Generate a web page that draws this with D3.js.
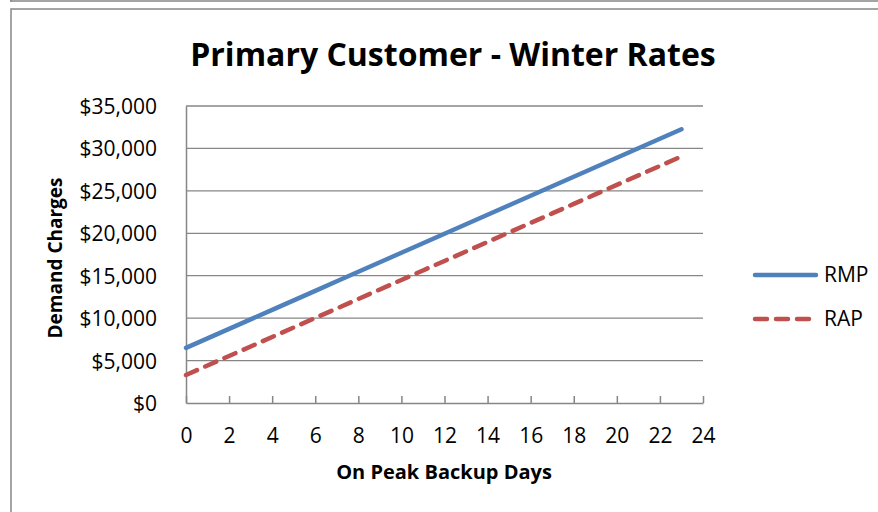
<!DOCTYPE html>
<html lang="en">
<head>
<meta charset="UTF-8">
<title>Primary Customer - Winter Rates</title>
<script src="https://d3js.org/d3.v7.min.js"></script>
<style>
  body { margin: 0; background: #fff; }
  svg text { font-family: "Open Sans", Lato, sans-serif; fill: #000; }
</style>
</head>
<body>
<div id="chart"></div>
<script>
// Data
const days = [0,1,2,3,4,5,6,7,8,9,10,11,12,13,14,15,16,17,18,19,20,21,22,23];
const rmp = [6500,7620,8740,9860,10980,12100,13220,14340,15460,16580,17700,18820,
             19940,21060,22180,23300,24420,25540,26660,27780,28900,30020,31140,32260];
const rap = [3300,4420,5540,6660,7780,8900,10020,11140,12260,13380,14500,15620,
             16740,17860,18980,20100,21220,22340,23460,24580,25700,26820,27940,29060];
const xTicks = [0,2,4,6,8,10,12,14,16,18,20,22,24];
const yTicks = [0,5000,10000,15000,20000,25000,30000,35000];

const W = 878, H = 512;
const plot = {left: 186, right: 703, top: 106, bottom: 403};
const grey = "#868686";

const svg = d3.select("#chart").append("svg")
    .attr("width", W).attr("height", H);

// frame lines (previous chart's edge + this chart's border)
svg.append("line").attr("x1", 10).attr("x2", W).attr("y1", 1).attr("y2", 1)
    .attr("stroke", grey).attr("stroke-width", 1.5);
svg.append("line").attr("x1", 11).attr("x2", 11).attr("y1", 0).attr("y2", 1.5)
    .attr("stroke", grey).attr("stroke-width", 1.5);
svg.append("rect").attr("x", 11).attr("y", 9).attr("width", W).attr("height", H)
    .attr("fill", "none").attr("stroke", grey).attr("stroke-width", 1.5);

const x = d3.scaleLinear().domain([0, 24]).range([plot.left, plot.right]);
const y = d3.scaleLinear().domain([0, 35000]).range([plot.bottom, plot.top]);

// gridlines
svg.append("g").selectAll("line").data(yTicks.filter(d => d > 0)).join("line")
    .attr("x1", plot.left).attr("x2", plot.right)
    .attr("y1", d => y(d)).attr("y2", d => y(d))
    .attr("stroke", grey).attr("stroke-width", 1.3);

// y axis
const yAxis = svg.append("g").attr("transform", `translate(${plot.left},0)`)
    .call(d3.axisLeft(y).tickValues(yTicks).tickSize(0).tickPadding(29)
        .tickFormat(d => "$" + d3.format(",")(d)));
yAxis.select(".domain").attr("stroke", grey).attr("stroke-width", 1.5);
yAxis.selectAll("text").attr("font-size", 21).attr("dy", "0.36em")
    .style("font-family", "'Open Sans', sans-serif");

// x axis, ticks point inward
const xAxis = svg.append("g").attr("transform", `translate(0,${plot.bottom})`)
    .call(d3.axisBottom(x).tickValues(xTicks).tickSizeInner(-7).tickSizeOuter(0).tickPadding(0));
xAxis.select(".domain").attr("stroke", grey).attr("stroke-width", 1.5);
xAxis.selectAll(".tick line").attr("stroke", grey).attr("stroke-width", 1.5);
xAxis.selectAll("text").attr("font-size", 21).attr("y", 40).attr("dy", null)
    .style("font-family", "'Open Sans', sans-serif");

// series
const line = d3.line().x((d, i) => x(days[i])).y(d => y(d));
svg.append("path").datum(rmp).attr("d", line)
    .attr("fill", "none").attr("stroke", "#4F81BD").attr("stroke-width", 4.5)
    .attr("stroke-linecap", "round");
svg.append("path").datum(rap).attr("d", line)
    .attr("fill", "none").attr("stroke", "#C0504D").attr("stroke-width", 4.5)
    .attr("stroke-linecap", "round").attr("stroke-dasharray", "12,9");

// title and axis titles
svg.append("text").attr("x", 453).attr("y", 66).attr("text-anchor", "middle")
    .attr("font-size", 32).attr("font-weight", "bold")
    .text("Primary Customer - Winter Rates");
svg.append("text").attr("x", 444).attr("y", 479).attr("text-anchor", "middle")
    .attr("font-size", 20).attr("font-weight", "bold")
    .text("On Peak Backup Days");
svg.append("text").attr("transform", "translate(62,258) rotate(-90)")
    .attr("text-anchor", "middle")
    .attr("font-size", 19).attr("font-weight", "bold")
    .text("Demand Charges");

// legend
const legend = [
    {name: "RMP", color: "#4F81BD", dash: null, y: 275},
    {name: "RAP", color: "#C0504D", dash: "12,9", y: 319}
];
const lg = svg.append("g").selectAll("g").data(legend).join("g");
lg.append("line").attr("x1", 755).attr("x2", 816)
    .attr("y1", d => d.y).attr("y2", d => d.y)
    .attr("stroke", d => d.color).attr("stroke-width", 4.5)
    .attr("stroke-linecap", "round").attr("stroke-dasharray", d => d.dash);
lg.append("text").attr("x", 824).attr("y", d => d.y + 7)
    .attr("font-size", 21).text(d => d.name);
</script>
</body>
</html>
